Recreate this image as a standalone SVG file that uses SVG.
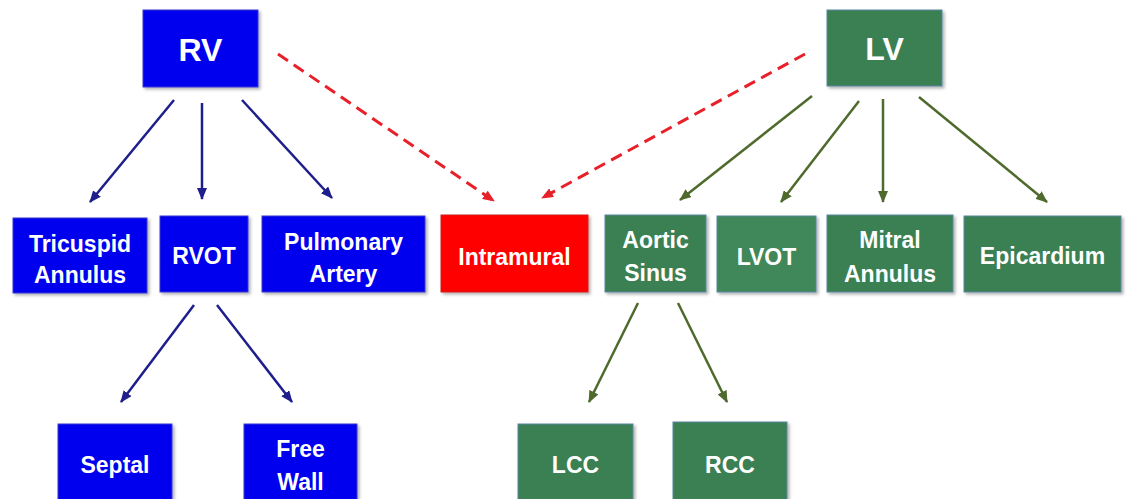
<svg xmlns="http://www.w3.org/2000/svg" width="1126" height="499" viewBox="0 0 1126 499">
<style>
.b{fill:#0000EE;stroke:#3a3ad0;stroke-width:1}
.g{fill:#3A8052;stroke:#5a86a0;stroke-width:1}
.r{fill:#FF0000;stroke:#d02020;stroke-width:1}
text{font-family:"Liberation Sans",Arial,sans-serif;font-weight:bold;fill:#ffffff;text-anchor:middle}
.t{font-size:23px}
.h{font-size:32px}
.ab{stroke:#1E1E8C;stroke-width:2.5;fill:none;marker-end:url(#mb)}
.ag{stroke:#4E6A2C;stroke-width:2.5;fill:none;marker-end:url(#mg)}
.ar{stroke:#E8202A;stroke-width:3;fill:none;stroke-dasharray:12 7;marker-end:url(#mr)}
</style>
<defs>
<filter id="sh" x="-10%" y="-10%" width="130%" height="130%">
<feDropShadow dx="2" dy="2" stdDeviation="1.5" flood-color="#000" flood-opacity="0.3"/>
</filter>
<marker id="mb" markerUnits="userSpaceOnUse" markerWidth="12" markerHeight="10" refX="11" refY="5" orient="auto"><path d="M0,0 L12,5 L0,10 z" fill="#1E1E8C"/></marker>
<marker id="mg" markerUnits="userSpaceOnUse" markerWidth="12" markerHeight="10" refX="11" refY="5" orient="auto"><path d="M0,0 L12,5 L0,10 z" fill="#4E6A2C"/></marker>
<marker id="mr" markerUnits="userSpaceOnUse" markerWidth="12" markerHeight="10" refX="11" refY="5" orient="auto"><path d="M0,0 L12,5 L0,10 z" fill="#E8202A"/></marker>
</defs>
<g id="connectors">
<line class="ab" x1="174" y1="100" x2="90" y2="202"/>
<line class="ab" x1="202" y1="103" x2="202" y2="199"/>
<line class="ab" x1="242" y1="100" x2="332" y2="198"/>
<line class="ab" x1="194" y1="305" x2="121" y2="402"/>
<line class="ab" x1="217" y1="305" x2="292" y2="402"/>
<line class="ar" x1="278" y1="54" x2="494" y2="201"/>
<line class="ar" x1="805" y1="54" x2="542" y2="198"/>
<line class="ag" x1="812" y1="96" x2="680" y2="200"/>
<line class="ag" x1="859" y1="101" x2="781" y2="202"/>
<line class="ag" x1="883" y1="99" x2="883" y2="202"/>
<line class="ag" x1="919" y1="97" x2="1047" y2="202"/>
<line class="ag" x1="638" y1="303" x2="589" y2="402"/>
<line class="ag" x1="678" y1="303" x2="727" y2="402"/>
</g>
<g id="rv"><rect class="b" x="143" y="10" width="115" height="77" filter="url(#sh)"/><text class="h" x="200.5" y="61">RV</text></g>
<g id="lv"><rect class="g" x="827" y="10" width="115" height="76" filter="url(#sh)"/><text class="h" x="884.5" y="60">LV</text></g>
<g id="tricuspid"><rect class="b" x="13" y="218" width="134" height="75" filter="url(#sh)"/><text class="t" x="80" y="252">Tricuspid</text><text class="t" x="80" y="283">Annulus</text></g>
<g id="rvot"><rect class="b" x="160" y="216" width="88" height="76" filter="url(#sh)"/><text class="t" x="204" y="264">RVOT</text></g>
<g id="pulmonary"><rect class="b" x="262" y="216" width="163" height="76" filter="url(#sh)"/><text class="t" x="343.5" y="250">Pulmonary</text><text class="t" x="343.5" y="282">Artery</text></g>
<g id="intramural"><rect class="r" x="441" y="215" width="147" height="77" filter="url(#sh)"/><text class="t" x="514.5" y="265">Intramural</text></g>
<g id="aortic"><rect class="g" x="605" y="215" width="101" height="77" filter="url(#sh)"/><text class="t" x="655.5" y="248">Aortic</text><text class="t" x="655.5" y="281">Sinus</text></g>
<g id="lvot"><rect class="g" x="717" y="216" width="99" height="76" filter="url(#sh)" style="fill:#3F875A"/><text class="t" x="766.5" y="265">LVOT</text></g>
<g id="mitral"><rect class="g" x="827" y="215" width="126" height="77" filter="url(#sh)"/><text class="t" x="890" y="248">Mitral</text><text class="t" x="890" y="282">Annulus</text></g>
<g id="epicardium"><rect class="g" x="964" y="216" width="157" height="76" filter="url(#sh)"/><text class="t" x="1042.5" y="264">Epicardium</text></g>
<g id="septal"><rect class="b" x="58" y="424" width="114" height="80" filter="url(#sh)"/><text class="t" x="115" y="473">Septal</text></g>
<g id="freewall"><rect class="b" x="244" y="424" width="113" height="80" filter="url(#sh)"/><text class="t" x="300.5" y="457">Free</text><text class="t" x="300.5" y="490">Wall</text></g>
<g id="lcc"><rect class="g" x="518" y="424" width="115" height="80" filter="url(#sh)"/><text class="t" x="575.5" y="473">LCC</text></g>
<g id="rcc"><rect class="g" x="673" y="422" width="114" height="82" filter="url(#sh)"/><text class="t" x="730" y="473">RCC</text></g>
</svg>
